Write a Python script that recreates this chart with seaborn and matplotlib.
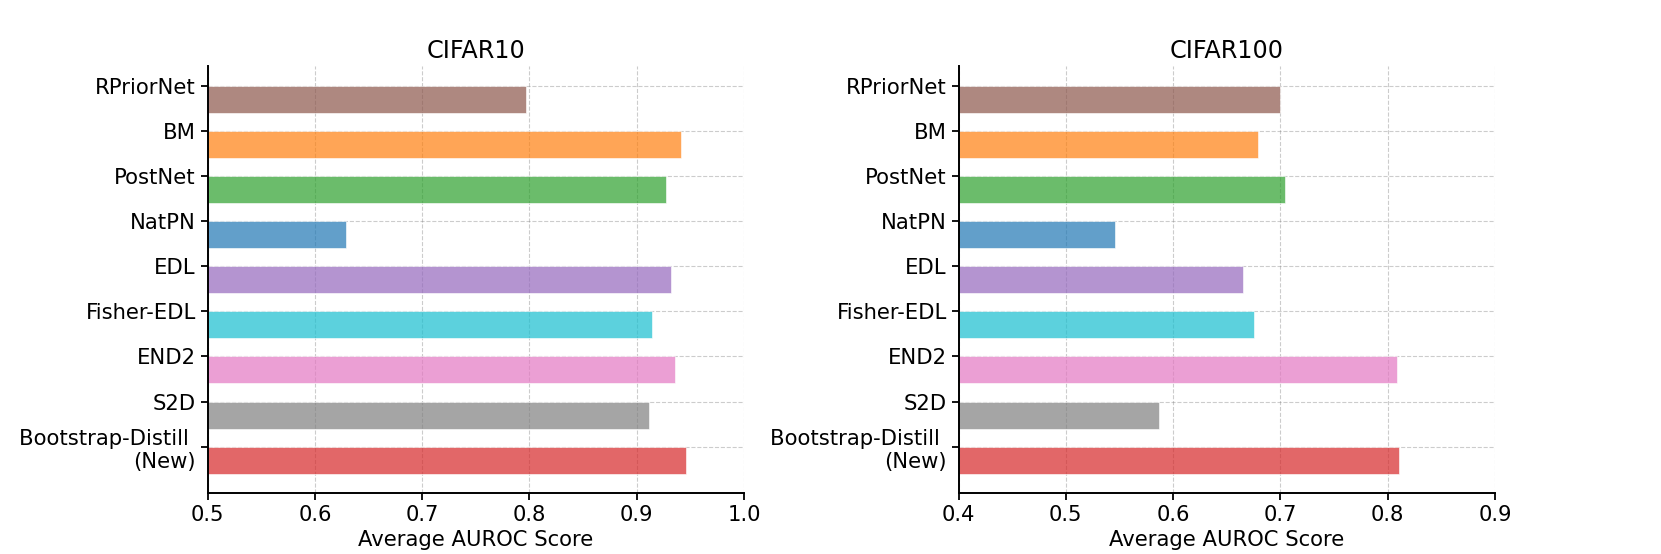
import numpy as np
import pandas as pd
import matplotlib
matplotlib.use("Agg")
import matplotlib.pyplot as plt
import seaborn as sns

# modelos y colores (tab10)
models = ["RPriorNet", "BM", "PostNet", "NatPN", "EDL", "Fisher-EDL",
          "END2", "S2D", "Bootstrap-Distill \n(New)"]
colors = ["tab:brown", "tab:orange", "tab:green", "tab:blue", "tab:purple",
          "tab:cyan", "tab:pink", "tab:gray", "tab:red"]

cifar10_auroc = [0.797, 0.941, 0.927, 0.629, 0.932, 0.914, 0.936, 0.911, 0.946]
cifar100_auroc = [0.700, 0.679, 0.704, 0.546, 0.665, 0.675, 0.809, 0.587, 0.811]

titles = ["CIFAR10", "CIFAR100"]
xlims = [(0.5, 1.0), (0.4, 0.9)]
xticks = [[0.5, 0.6, 0.7, 0.8, 0.9, 1.0], [0.4, 0.5, 0.6, 0.7, 0.8, 0.9]]

sns.set_style("ticks")
plt.rcParams["font.family"] = ["DejaVu Sans"]
plt.rcParams["text.color"] = "black"
plt.rcParams["axes.labelcolor"] = "black"
plt.rcParams["xtick.color"] = "black"
plt.rcParams["ytick.color"] = "black"
plt.rcParams["axes.edgecolor"] = "black"

fig, axes = plt.subplots(1, 2, figsize=(16.61, 5.54), dpi=100)
fig.subplots_adjust(left=0.125, right=0.9, bottom=0.11, top=0.88, wspace=0.4)

palette = dict(zip(models, colors))
bar_h = 0.6
fs = 15.25

for ax, vals, title, xl, xt in zip(axes, [cifar10_auroc, cifar100_auroc], titles, xlims, xticks):
    df = pd.DataFrame({"model": models, "auroc": vals})
    sns.barplot(data=df, y="model", x="auroc", hue="model", palette=palette,
                order=models, hue_order=models, legend=False, width=bar_h,
                saturation=1, alpha=0.7, edgecolor="white", linewidth=0.6,
                orient="h", ax=ax)
    # etiquetas en el borde superior de cada barra
    pos = np.arange(len(models)) - bar_h / 2
    ax.set_yticks(pos)
    ax.set_yticklabels(models, fontsize=fs)
    ax.set_ylim(pos[-1] + 1.03, pos[0] - 0.43)
    ax.set_xlim(*xl)
    ax.set_xticks(xt)
    ax.set_xticklabels([f"{v:.1f}" for v in xt], fontsize=fs)
    ax.set_xlabel("Average AUROC Score", fontsize=fs)
    ax.set_ylabel("")
    ax.set_title(title, fontsize=17.2)
    ax.grid(True, axis="both", linestyle="--", color="gray", alpha=0.4, linewidth=0.8)
    ax.set_axisbelow(True)
    ax.tick_params(axis="both", length=5, width=1.3)
    for s in ["left", "bottom"]:
        ax.spines[s].set_linewidth(1.4)
    sns.despine(ax=ax)

fig.savefig("out.png", dpi=100)
